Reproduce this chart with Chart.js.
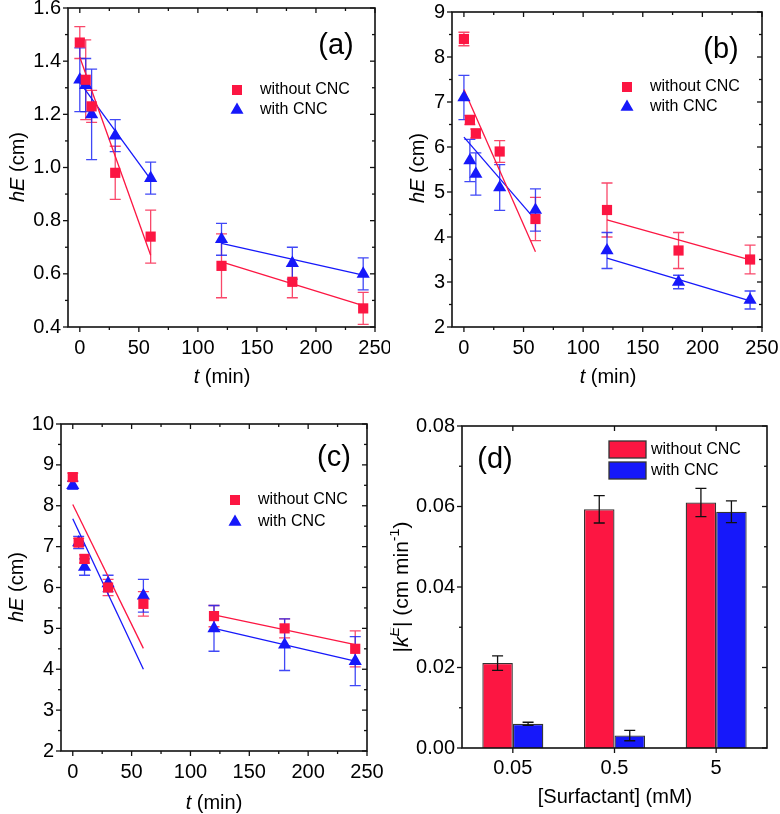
<!DOCTYPE html>
<html>
<head>
<meta charset="utf-8">
<script src="https://cdn.jsdelivr.net/npm/chart.js@4.4.1/dist/chart.umd.min.js"></script>
<style>
  body { margin: 0; background: #fff; }
  #wrap { position: relative; width: 780px; height: 814px; }
  canvas { position: absolute; }
</style>
</head>
<body>
<div id="wrap">
  <canvas id="ca" width="390" height="400" style="left:0;top:0"></canvas>
  <canvas id="cb" width="390" height="400" style="left:390px;top:0"></canvas>
  <canvas id="cc" width="390" height="414" style="left:0;top:400px"></canvas>
  <canvas id="cd" width="390" height="414" style="left:390px;top:400px"></canvas>
</div>
<script>
// sampling times (min) and axis ticks
const times = [0, 5, 10, 30, 60, 120, 180, 240];
const timeTicks = [0, 50, 100, 150, 200, 250];
const fitEarlyT = [0, 60];
const fitLateT = [120, 240];

// panel (a)
const aTicks = [0.4, 0.6, 0.8, 1.0, 1.2, 1.4, 1.6];
const aWithout = [1.47, 1.33, 1.23, 0.98, 0.74, 0.63, 0.57, 0.47];
const aWithoutErr = [0.06, 0.15, 0.06, 0.10, 0.10, 0.12, 0.06, 0.06];
const aWith = [1.33, 1.31, 1.20, 1.12, 0.96, 0.73, 0.64, 0.60];
const aWithErr = [0.12, 0.10, 0.17, 0.06, 0.06, 0.06, 0.06, 0.06];
const aFitWithoutEarly = [1.415, 0.67];
const aFitWithoutLate = [0.645, 0.48];
const aFitWithEarly = [1.32, 0.955];
const aFitWithLate = [0.715, 0.595];

// panel (b)
const bTicks = [2, 3, 4, 5, 6, 7, 8, 9];
const bWithout = [8.4, 6.6, 6.3, 5.9, 4.4, 4.6, 3.7, 3.5];
const bWithoutErr = [0.15, 0.1, 0.1, 0.24, 0.48, 0.6, 0.4, 0.32];
const bWith = [7.1, 5.7, 5.4, 5.1, 4.6, 3.7, 3.0, 2.6];
const bWithErr = [0.49, 0.47, 0.47, 0.51, 0.47, 0.4, 0.15, 0.2];
const bFitWithoutEarly = [7.28, 3.67];
const bFitWithoutLate = [4.38, 3.49];
const bFitWithEarly = [6.22, 4.38];
const bFitWithLate = [3.53, 2.58];

// panel (c)
const cTicks = [2, 3, 4, 5, 6, 7, 8, 9, 10];
const cWithout = [8.7, 7.1, 6.7, 6.0, 5.6, 5.3, 5.0, 4.5];
const cWithoutErr = [0.1, 0.1, 0.1, 0.2, 0.3, 0.26, 0.23, 0.44];
const cWith = [8.5, 7.1, 6.5, 6.1, 5.8, 5.0, 4.6, 4.2];
const cWithErr = [0.1, 0.15, 0.2, 0.2, 0.4, 0.56, 0.63, 0.6];
const cFitWithoutEarly = [8.03, 4.51];
const cFitWithoutLate = [5.33, 4.6];
const cFitWithEarly = [7.68, 4.0];
const cFitWithLate = [5.0, 4.2];

// panel (d)
const surfactant = ['0.05', '0.5', '5'];
const dTicks = [0, 0.02, 0.04, 0.06, 0.08];
const dWithout = [0.0211, 0.0593, 0.0610];
const dWithoutErr = [0.0018, 0.0034, 0.0035];
const dWith = [0.0060, 0.0031, 0.0587];
const dWithErr = [0.0004, 0.0013, 0.0027];

const RED = 'rgb(252,22,66)';
const BLUE = 'rgb(22,24,250)';
const RED_ERR = 'rgba(248,40,80,0.85)';
const BLUE_ERR = 'rgba(30,40,245,0.85)';
const FONT = '"Liberation Sans", Arial, sans-serif';

// error bars drawn from each dataset's errors array
const errorBars = {
  id: 'errorBars',
  beforeDatasetsDraw(chart) { drawErrors(chart, false); },
  afterDatasetsDraw(chart) { drawErrors(chart, true); }
};
function drawErrors(chart, onTop) {
  const ctx = chart.ctx;
  chart.data.datasets.forEach((ds, i) => {
    if (!ds.errors || !!ds.errorsOnTop !== onTop) return;
    const meta = chart.getDatasetMeta(i);
    const ys = chart.scales[meta.yAxisID];
    ctx.save();
    ctx.strokeStyle = ds.errorColor || ds.borderColor;
    ctx.lineWidth = 1.3;
    meta.data.forEach((el, j) => {
      const v = ds.data[j];
      const val = typeof v === 'object' ? v.y : v;
      const e = ds.errors[j];
      const x = el.x;
      const y1 = ys.getPixelForValue(val + e), y2 = ys.getPixelForValue(val - e);
      ctx.beginPath();
      ctx.moveTo(x, y1); ctx.lineTo(x, y2);
      ctx.moveTo(x - 5.5, y1); ctx.lineTo(x + 5.5, y1);
      ctx.moveTo(x - 5.5, y2); ctx.lineTo(x + 5.5, y2);
      ctx.stroke();
    });
    ctx.restore();
  });
}

// box around the plot with major/minor ticks on all sides
const frame = {
  id: 'frame',
  afterDraw(chart, args, o) {
    const { ctx, chartArea: a } = chart;
    const xs = chart.scales.x, ys = chart.scales.y;
    ctx.save();
    ctx.strokeStyle = '#111';
    ctx.lineWidth = 1.6;
    ctx.strokeRect(a.left, a.top, a.right - a.left, a.bottom - a.top);
    ctx.lineWidth = 1.3;
    const seg = (x1, y1, x2, y2) => { ctx.beginPath(); ctx.moveTo(x1, y1); ctx.lineTo(x2, y2); ctx.stroke(); };
    const xt = (vals, len) => vals.forEach(v => {
      const p = xs.getPixelForValue(v);
      seg(p, a.bottom, p, a.bottom + len);
      seg(p, a.top, p, a.top + len);
    });
    const yt = (vals, len) => vals.forEach(v => {
      const p = ys.getPixelForValue(v);
      seg(a.left - len, p, a.left, p);
      seg(a.right - len, p, a.right, p);
    });
    xt(o.xMajor || [], 5); xt(o.xMinor || [], 3);
    yt(o.yMajor || [], 5); yt(o.yMinor || [], 3);
    ctx.restore();
  }
};

// mixed-style text (italic, superscript)
function richText(ctx, parts, x, y, size, rot) {
  const fontOf = f => (f.includes('i') ? 'italic ' : '') + (f.includes('s') ? size * 0.68 : size) + 'px ' + FONT;
  let w = 0;
  parts.forEach(([t, f]) => { ctx.font = fontOf(f); w += ctx.measureText(t).width; });
  ctx.save();
  ctx.translate(x, y);
  ctx.rotate(rot || 0);
  ctx.fillStyle = '#000';
  ctx.textBaseline = 'middle';
  ctx.textAlign = 'left';
  let cx = -w / 2;
  parts.forEach(([t, f]) => {
    ctx.font = fontOf(f);
    ctx.fillText(t, cx, f.includes('s') ? -size * 0.32 : 0);
    cx += ctx.measureText(t).width;
  });
  ctx.restore();
}
const notes = {
  id: 'notes',
  afterDraw(chart, args, o) {
    (o.items || []).forEach(it => richText(chart.ctx, it.parts, it.x, it.y, it.size, it.rot));
    const k = o.key;
    if (!k) return;
    const ctx = chart.ctx;
    const sets = chart.data.datasets.filter(d => d.inKey);
    sets.forEach((d, i) => {
      const y = k.y + i * k.dy;
      ctx.save();
      ctx.fillStyle = d.backgroundColor;
      if (k.kind === 'box') {
        ctx.strokeStyle = '#333';
        ctx.lineWidth = 1.3;
        ctx.fillRect(k.x, y - 8.5, 37, 17);
        ctx.strokeRect(k.x, y - 8.5, 37, 17);
      } else if (d.pointStyle === 'rect') {
        ctx.fillRect(k.x - 5, y - 5, 10, 10);
      } else {
        ctx.beginPath();
        ctx.moveTo(k.x, y - 7.5);
        ctx.lineTo(k.x + 6.5, y + 3.8);
        ctx.lineTo(k.x - 6.5, y + 3.8);
        ctx.closePath();
        ctx.fill();
      }
      ctx.fillStyle = '#000';
      ctx.font = k.size + 'px ' + FONT;
      ctx.textBaseline = 'middle';
      ctx.fillText(d.label, k.tx, y);
      ctx.restore();
    });
  }
};

function pts(xs, ys) { return xs.map((t, i) => ({ x: t, y: ys[i] })); }
function scatterSet(label, vals, errs, color, errColor, style, r) {
  return {
    type: 'scatter', label, data: pts(times, vals), errors: errs, errorColor: errColor, inKey: true,
    backgroundColor: color, borderColor: color, pointStyle: style,
    pointRadius: r, pointHoverRadius: r, borderWidth: 0
  };
}
function fitSet(tt, vals, color) {
  return {
    type: 'line', data: pts(tt, vals), borderColor: color, backgroundColor: color,
    borderWidth: 1.3, pointRadius: 0, fill: false
  };
}
function mids(arr) { return arr.slice(1).map((v, i) => (v + arr[i]) / 2); }

const tickFont = { family: FONT, size: 20 };
const noGrid = { display: false, drawTicks: false };

function timePanel(id, p) {
  new Chart(document.getElementById(id), {
    type: 'scatter',
    data: {
      datasets: [
        scatterSet('without CNC', p.without, p.withoutErr, RED, RED_ERR, 'rect', 7.2),
        scatterSet('with CNC', p.with, p.withErr, BLUE, BLUE_ERR, 'triangle', 7.6),
        fitSet(fitEarlyT, p.fitWithoutEarly, RED),
        fitSet(fitLateT, p.fitWithoutLate, RED),
        fitSet(fitEarlyT, p.fitWithEarly, BLUE),
        fitSet(fitLateT, p.fitWithLate, BLUE)
      ]
    },
    options: {
      responsive: false,
      animation: false,
      layout: { padding: p.pad },
      plugins: {
        legend: { display: false },
        tooltip: { enabled: false },
        frame: { xMajor: timeTicks, xMinor: mids(timeTicks), yMajor: p.yTicks, yMinor: mids(p.yTicks) },
        notes: {
          items: [
            { parts: [['h', 'i'], ['E', 'i'], [' (cm)', '']], x: p.yTitle[0], y: p.yTitle[1], size: 20, rot: -Math.PI / 2 },
            { parts: [['t', 'i'], [' (min)', '']], x: p.xTitle[0], y: p.xTitle[1], size: 20 },
            { parts: [[p.tag, '']], x: p.tagPos[0], y: p.tagPos[1], size: 29 }
          ],
          key: { x: p.key[0], y: p.key[1], dy: p.key[2], tx: p.key[3], size: 16 }
        }
      },
      scales: {
        x: {
          type: 'linear', min: -10, max: 250,
          grid: noGrid, border: { display: false },
          afterBuildTicks: s => { s.ticks = timeTicks.map(v => ({ value: v })); },
          afterFit: s => { s.height = p.xH; s.paddingLeft = 0; s.paddingRight = 0; },
          ticks: { font: tickFont, color: '#000', padding: 9, maxRotation: 0, autoSkip: false }
        },
        y: {
          min: p.yTicks[0], max: p.yTicks[p.yTicks.length - 1],
          grid: noGrid, border: { display: false },
          afterBuildTicks: s => { s.ticks = p.yTicks.map(v => ({ value: v })); },
          afterFit: s => { s.width = p.yW; s.paddingTop = 0; s.paddingBottom = 0; },
          ticks: { font: tickFont, color: '#000', padding: 7, autoSkip: false, callback: p.fmt }
        }
      }
    },
    plugins: [errorBars, frame, notes]
  });
}

timePanel('ca', {
  without: aWithout, withoutErr: aWithoutErr, with: aWith, withErr: aWithErr,
  fitWithoutEarly: aFitWithoutEarly, fitWithoutLate: aFitWithoutLate,
  fitWithEarly: aFitWithEarly, fitWithLate: aFitWithLate,
  yTicks: aTicks, fmt: v => v.toFixed(1),
  pad: { top: 8, right: 15, left: 0, bottom: 0 }, yW: 68, xH: 73,
  yTitle: [18, 167], xTitle: [222, 377], tag: '(a)', tagPos: [336, 46], key: [237, 90, 20, 260]
});
timePanel('cb', {
  without: bWithout, withoutErr: bWithoutErr, with: bWith, withErr: bWithErr,
  fitWithoutEarly: bFitWithoutEarly, fitWithoutLate: bFitWithoutLate,
  fitWithEarly: bFitWithEarly, fitWithLate: bFitWithLate,
  yTicks: bTicks, fmt: v => String(v),
  pad: { top: 12, right: 18, left: 0, bottom: 0 }, yW: 62, xH: 73,
  yTitle: [28, 168], xTitle: [218, 377], tag: '(b)', tagPos: [331, 50], key: [237, 87, 20, 260]
});
timePanel('cc', {
  without: cWithout, withoutErr: cWithoutErr, with: cWith, withErr: cWithErr,
  fitWithoutEarly: cFitWithoutEarly, fitWithoutLate: cFitWithoutLate,
  fitWithEarly: cFitWithEarly, fitWithLate: cFitWithLate,
  yTicks: cTicks, fmt: v => String(v),
  pad: { top: 24, right: 23, left: 0, bottom: 0 }, yW: 61, xH: 63,
  yTitle: [17, 187], xTitle: [214, 403], tag: '(c)', tagPos: [334, 58], key: [235, 100, 22, 258]
});

// panel (d): bar chart
new Chart(document.getElementById('cd'), {
  type: 'bar',
  data: {
    labels: surfactant,
    datasets: [
      { label: 'without CNC', data: dWithout, errors: dWithoutErr, errorsOnTop: true, errorColor: '#111', inKey: true,
        backgroundColor: RED, borderColor: '#333', borderWidth: 1.3, categoryPercentage: 0.6, barPercentage: 1.0 },
      { label: 'with CNC', data: dWith, errors: dWithErr, errorsOnTop: true, errorColor: '#111', inKey: true,
        backgroundColor: BLUE, borderColor: '#333', borderWidth: 1.3, categoryPercentage: 0.6, barPercentage: 1.0 }
    ]
  },
  options: {
    responsive: false,
    animation: false,
    layout: { padding: { top: 26, right: 13, left: 0, bottom: 0 } },
    plugins: {
      legend: { display: false },
      tooltip: { enabled: false },
      frame: { xMajor: [0, 1, 2], yMajor: dTicks, yMinor: mids(dTicks) },
      notes: {
        items: [
          { parts: [['|', ''], ['k', 'i'], ['E', 'is'], ['| (cm min', ''], ['-1', 's'], [')', '']], x: 12, y: 187, size: 21, rot: -Math.PI / 2 },
          { parts: [['[Surfactant] (mM)', '']], x: 225, y: 397, size: 20 },
          { parts: [['(d)', '']], x: 105, y: 60, size: 29 }
        ],
        key: { kind: 'box', x: 219, y: 49.5, dy: 21, tx: 261, size: 16 }
      }
    },
    scales: {
      x: {
        grid: noGrid, border: { display: false },
        afterFit: s => { s.height = 66; s.paddingLeft = 0; s.paddingRight = 0; },
        ticks: { font: tickFont, color: '#000', padding: 8, maxRotation: 0 }
      },
      y: {
        min: 0, max: 0.08,
        grid: noGrid, border: { display: false },
        afterBuildTicks: s => { s.ticks = dTicks.map(v => ({ value: v })); },
        afterFit: s => { s.width = 72; s.paddingTop = 0; s.paddingBottom = 0; },
        ticks: { font: tickFont, color: '#000', padding: 7, callback: v => v.toFixed(2) }
      }
    }
  },
  plugins: [errorBars, frame, notes]
});
</script>
</body>
</html>
